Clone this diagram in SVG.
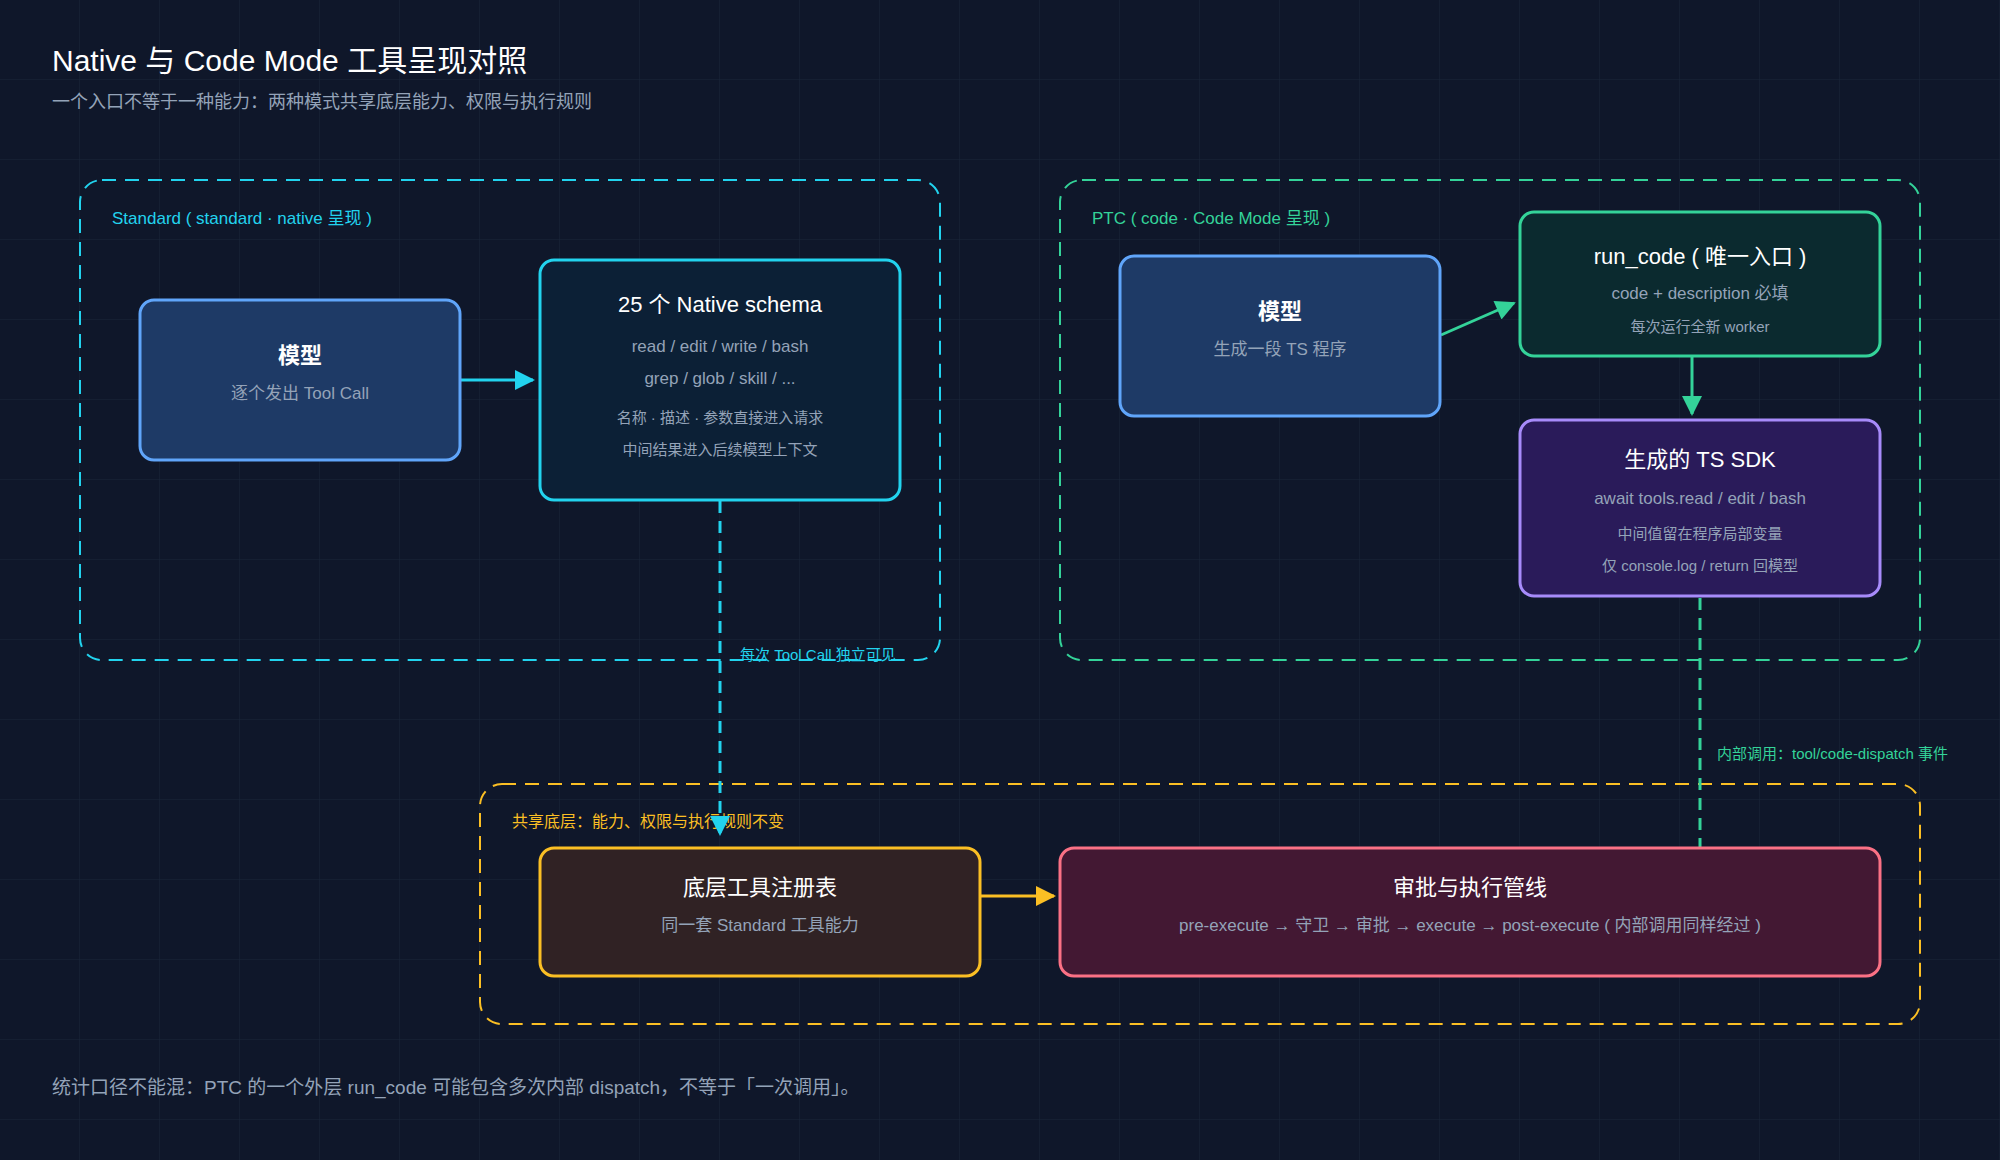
<svg xmlns="http://www.w3.org/2000/svg" width="2000" height="1160" viewBox="0 0 2000 1160">
<defs>
<pattern id="grid" width="80" height="80" patternUnits="userSpaceOnUse"><path d="M80 0V80M0 80H80" fill="none" stroke="#1a253a" stroke-width="1"/></pattern>
<marker id="aC" viewBox="0 0 10 10" refX="9" refY="5" markerWidth="10" markerHeight="10" markerUnits="userSpaceOnUse" orient="auto"><path d="M0 0L10 5L0 10z" fill="#22d3ee"/></marker>
<marker id="aCl" viewBox="0 0 10 10" refX="9" refY="5" markerWidth="28" markerHeight="20" markerUnits="userSpaceOnUse" orient="auto"><path d="M0 0L10 5L0 10z" fill="#22d3ee"/></marker>
<marker id="aG" viewBox="0 0 10 10" refX="9" refY="5" markerWidth="28" markerHeight="20" markerUnits="userSpaceOnUse" orient="auto"><path d="M0 0L10 5L0 10z" fill="#34d399"/></marker>
<marker id="aY" viewBox="0 0 10 10" refX="9" refY="5" markerWidth="28" markerHeight="20" markerUnits="userSpaceOnUse" orient="auto"><path d="M0 0L10 5L0 10z" fill="#fbbf24"/></marker>
</defs>
<style>
text{font-family:"Liberation Sans","Noto Sans CJK SC",sans-serif}
.t{fill:#fff;font-size:22px;text-anchor:middle}
.s{fill:#94a3b8;font-size:17px;text-anchor:middle}
.xs{fill:#94a3b8;font-size:15px;text-anchor:middle}
.grp{fill:none;stroke-width:2;stroke-dasharray:14 9}
.box{stroke-width:3}
</style>
<rect width="2000" height="1160" fill="#0f172a"/>
<rect width="2000" height="1160" fill="url(#grid)"/>
<text x="52" y="71" fill="#fff" font-size="30">Native 与 Code Mode 工具呈现对照</text>
<text x="52" y="108" fill="#94a3b8" font-size="18">一个入口不等于一种能力：两种模式共享底层能力、权限与执行规则</text>

<g id="group-standard"><rect class="grp" x="80" y="180" width="860" height="480" rx="22" stroke="#22d3ee"/><text x="112" y="224" fill="#22d3ee" font-size="17">Standard ( standard · native 呈现 )</text></g>
<g id="group-ptc"><rect class="grp" x="1060" y="180" width="860" height="480" rx="22" stroke="#34d399"/><text x="1092" y="224" fill="#34d399" font-size="17">PTC ( code · Code Mode 呈现 )</text></g>
<g id="group-shared"><rect class="grp" x="480" y="784" width="1440" height="240" rx="22" stroke="#fbbf24"/><text x="512" y="827" fill="#fbbf24" font-size="16">共享底层：能力、权限与执行规则不变</text></g>

<g id="connectors" fill="none">
<path d="M461 380H533" stroke="#22d3ee" stroke-width="3" marker-end="url(#aCl)"/>
<path d="M720 501V834" stroke="#22d3ee" stroke-width="3" stroke-dasharray="12 8" marker-end="url(#aCl)"/>
<path d="M1441 335L1514 303" stroke="#34d399" stroke-width="3" marker-end="url(#aG)"/>
<path d="M1692 357V414" stroke="#34d399" stroke-width="3" marker-end="url(#aG)"/>
<path d="M1700 598V847" stroke="#34d399" stroke-width="3" stroke-dasharray="12 8"/>
<path d="M981 896H1054" stroke="#fbbf24" stroke-width="3" marker-end="url(#aY)"/>
<text x="740" y="660" fill="#22d3ee" font-size="15" stroke="none">每次 Tool Call 独立可见</text>
<text x="1717" y="759" fill="#34d399" font-size="15" stroke="none">内部调用：tool/code-dispatch 事件</text>
</g>

<g id="model-std"><rect class="box" x="140" y="300" width="320" height="160" rx="14" fill="#1e3a66" stroke="#60a5fa"/><text class="t" x="300" y="363" font-weight="bold">模型</text><text class="s" x="300" y="399">逐个发出 Tool Call</text></g>
<g id="native-schema"><rect class="box" x="540" y="260" width="360" height="240" rx="14" fill="#0c2036" stroke="#22d3ee"/><text class="t" x="720" y="312">25 个 Native schema</text><text class="s" x="720" y="352">read / edit / write / bash</text><text class="s" x="720" y="384">grep / glob / skill / ...</text><text class="xs" x="720" y="423">名称 · 描述 · 参数直接进入请求</text><text class="xs" x="720" y="455">中间结果进入后续模型上下文</text></g>
<g id="model-ptc"><rect class="box" x="1120" y="256" width="320" height="160" rx="14" fill="#1e3a66" stroke="#60a5fa"/><text class="t" x="1280" y="319" font-weight="bold">模型</text><text class="s" x="1280" y="355">生成一段 TS 程序</text></g>
<g id="run-code"><rect class="box" x="1520" y="212" width="360" height="144" rx="14" fill="#0b2a2f" stroke="#34d399"/><text class="t" x="1700" y="264">run_code ( 唯一入口 )</text><text class="s" x="1700" y="299">code + description 必填</text><text class="xs" x="1700" y="332">每次运行全新 worker</text></g>
<g id="ts-sdk"><rect class="box" x="1520" y="420" width="360" height="176" rx="14" fill="#2a1b5a" stroke="#a78bfa"/><text class="t" x="1700" y="467">生成的 TS SDK</text><text class="s" x="1700" y="504">await tools.read / edit / bash</text><text class="xs" x="1700" y="539">中间值留在程序局部变量</text><text class="xs" x="1700" y="571">仅 console.log / return 回模型</text></g>
<g id="registry"><rect class="box" x="540" y="848" width="440" height="128" rx="14" fill="#302224" stroke="#fbbf24"/><text class="t" x="760" y="895">底层工具注册表</text><text class="s" x="760" y="931">同一套 Standard 工具能力</text></g>
<g id="pipeline"><rect class="box" x="1060" y="848" width="820" height="128" rx="14" fill="#431833" stroke="#fb7185"/><text class="t" x="1470" y="895">审批与执行管线</text><text class="s" x="1470" y="931">pre-execute → 守卫 → 审批 → execute → post-execute ( 内部调用同样经过 )</text></g>

<text x="52" y="1094" fill="#94a3b8" font-size="19">统计口径不能混：PTC 的一个外层 run_code 可能包含多次内部 dispatch，不等于「一次调用」。</text>
</svg>
